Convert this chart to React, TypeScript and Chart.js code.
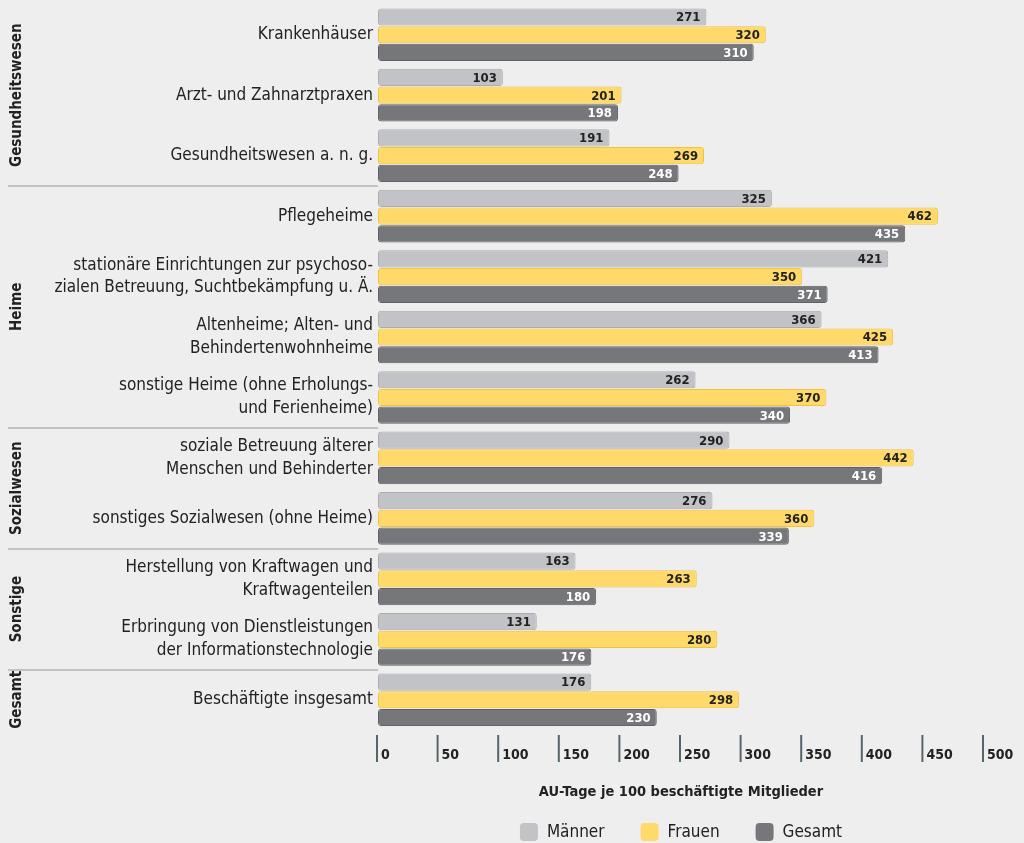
import React, { useEffect, useRef } from "react";
import { Chart, registerables } from "chart.js";

Chart.register(...registerables);

const categories: string[][] = [
  ["Krankenhäuser"],
  ["Arzt- und Zahnarztpraxen"],
  ["Gesundheitswesen a. n. g."],
  ["Pflegeheime"],
  ["stationäre Einrichtungen zur psychoso-", "zialen Betreuung, Suchtbekämpfung u. Ä."],
  ["Altenheime; Alten- und", "Behindertenwohnheime"],
  ["sonstige Heime (ohne Erholungs-", "und Ferienheime)"],
  ["soziale Betreuung älterer", "Menschen und Behinderter"],
  ["sonstiges Sozialwesen (ohne Heime)"],
  ["Herstellung von Kraftwagen und", "Kraftwagenteilen"],
  ["Erbringung von Dienstleistungen", "der Informationstechnologie"],
  ["Beschäftigte insgesamt"],
];

const maenner = [271, 103, 191, 325, 421, 366, 262, 290, 276, 163, 131, 176];
const frauen = [320, 201, 269, 462, 350, 425, 370, 442, 360, 263, 280, 298];
const gesamt = [310, 198, 248, 435, 371, 413, 340, 416, 339, 180, 176, 230];

const seriesNames = ["Männer", "Frauen", "Gesamt"];

// groups: name, first category index, last category index
const groupNames = ["Gesundheitswesen", "Heime", "Sozialwesen", "Sonstige", "Gesamt"];
const groupStart = [0, 3, 7, 9, 11];
const groupEnd = [2, 6, 8, 10, 11];

const xTicks = [0, 50, 100, 150, 200, 250, 300, 350, 400, 450, 500];
const axisTitle = "AU-Tage je 100 beschäftigte Mitglieder";

const FONT = "'Liberation Sans Narrow', 'DejaVu Sans Condensed', 'Roboto Condensed', 'Open Sans', sans-serif";

const fillColors = ["#c2c3c6", "#ffda6b", "#76777b"];
const borderColors = ["#abacaf", "#f0c23e", "#616266"];
const valueColors = ["#222222", "#222222", "#ffffff"];

const overlayPlugin = {
  id: "overlay",
  afterDatasetsDraw(chart: any) {
    const ctx = chart.ctx as CanvasRenderingContext2D;
    ctx.save();
    ctx.textBaseline = "middle";
    ctx.textAlign = "right";
    ctx.font = `bold 13px ${FONT}`;
    for (let d = 0; d < 3; d++) {
      const meta = chart.getDatasetMeta(d);
      const vals = chart.data.datasets[d].data as number[];
      meta.data.forEach((el: any, i: number) => {
        ctx.fillStyle = valueColors[d];
        ctx.fillText(String(vals[i]), el.x - 6, el.y + 1);
      });
    }
    ctx.restore();
  },
  afterDraw(chart: any) {
    const ctx = chart.ctx as CanvasRenderingContext2D;
    const y = chart.scales.y;
    const x = chart.scales.x;
    const area = chart.chartArea;
    ctx.save();
    // separators
    const half = (y.getPixelForValue(1) - y.getPixelForValue(0)) / 2;
    ctx.strokeStyle = "#c3c3c3";
    ctx.lineWidth = 2;
    for (let g = 1; g < groupNames.length; g++) {
      const py = Math.round(y.getPixelForValue(groupStart[g]) - half);
      ctx.beginPath();
      ctx.moveTo(8, py);
      ctx.lineTo(area.left, py);
      ctx.stroke();
    }
    // group labels
    ctx.fillStyle = "#222222";
    ctx.font = `bold 15px ${FONT}`;
    ctx.textAlign = "center";
    ctx.textBaseline = "middle";
    for (let g = 0; g < groupNames.length; g++) {
      const top = y.getPixelForValue(groupStart[g]) - half;
      const bot = y.getPixelForValue(groupEnd[g]) + half;
      const cy = (top + bot) / 2;
      ctx.save();
      ctx.translate(17, cy);
      ctx.rotate(-Math.PI / 2);
      ctx.fillText(groupNames[g], 0, 0);
      ctx.restore();
    }
    // x ticks
    ctx.strokeStyle = "#56646b";
    ctx.lineWidth = 2;
    ctx.font = `bold 14px ${FONT}`;
    ctx.textAlign = "left";
    ctx.textBaseline = "alphabetic";
    for (const t of xTicks) {
      const px = x.getPixelForValue(t);
      ctx.beginPath();
      ctx.moveTo(px - 1, area.bottom + 5);
      ctx.lineTo(px - 1, area.bottom + 32);
      ctx.stroke();
      ctx.fillStyle = "#222222";
      ctx.fillText(String(t), px + 3, area.bottom + 29);
    }
    // axis title
    const cx = (area.left + area.right) / 2;
    ctx.textAlign = "center";
    ctx.textBaseline = "middle";
    ctx.font = `bold 14.5px ${FONT}`;
    ctx.fillText(axisTitle, cx, 792);
    // legend
    ctx.font = `17px ${FONT}`;
    ctx.textAlign = "left";
    const box = 18;
    const gap = 9;
    const spacing = 36;
    const widths = seriesNames.map((n) => box + gap + ctx.measureText(n).width);
    const total = widths.reduce((a, b) => a + b, 0) + spacing * (seriesNames.length - 1);
    let lx = cx - total / 2;
    const ly = 832;
    seriesNames.forEach((n, i) => {
      ctx.fillStyle = fillColors[i];
      ctx.beginPath();
      (ctx as any).roundRect(lx, ly - box / 2, box, box, 4);
      ctx.fill();
      ctx.fillStyle = "#222222";
      ctx.fillText(n, lx + box + gap, ly + 1);
      lx += widths[i] + spacing;
    });
    ctx.restore();
  },
};

export default function App() {
  const ref = useRef<HTMLCanvasElement | null>(null);
  useEffect(() => {
    document.body.style.margin = "0";
    const canvas = ref.current!;
    const mk = (label: string, data: number[], i: number) => ({
      label,
      data,
      backgroundColor: fillColors[i],
      borderColor: borderColors[i],
      borderWidth: 1,
      borderRadius: 3,
      borderSkipped: false,
      barPercentage: 0.97,
      categoryPercentage: 0.88,
    });
    const chart = new Chart(canvas, {
      type: "bar",
      data: {
        labels: categories,
        datasets: [mk(seriesNames[0], maenner, 0), mk(seriesNames[1], frauen, 1), mk(seriesNames[2], gesamt, 2)],
      },
      options: {
        indexAxis: "y",
        animation: false,
        responsive: false,
        maintainAspectRatio: false,
        layout: { padding: { top: 4.5, bottom: 113, left: 0, right: 40 } },
        plugins: { legend: { display: false }, tooltip: { enabled: false } },
        scales: {
          x: {
            display: false,
            min: 0,
            max: 500,
          },
          y: {
            grid: { display: false, drawTicks: false },
            border: { display: false },
            afterFit: (s: any) => {
              s.width = 378;
              s.paddingTop = 0;
              s.paddingBottom = 0;
            },
            ticks: {
              autoSkip: false,
              padding: 5,
              color: "#222222",
              font: { family: FONT, size: 17, lineHeight: 1.35 },
            },
          },
        },
      },
      plugins: [overlayPlugin],
    });
    return () => chart.destroy();
  }, []);
  return (
    <div style={{ position: "absolute", left: 0, top: 0, width: 1024, height: 843, background: "#eeeeee" }}>
      <canvas ref={ref} width={1024} height={843} style={{ display: "block" }} />
    </div>
  );
}
